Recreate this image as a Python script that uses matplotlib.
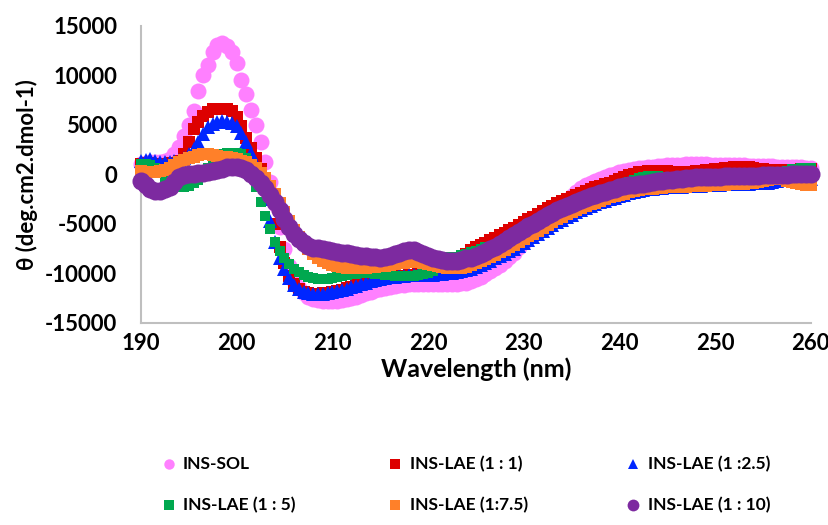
import matplotlib
matplotlib.use("Agg")
import matplotlib.pyplot as plt
from matplotlib.lines import Line2D

plt.rcParams['font.family'] = ['Lato', 'DejaVu Sans']
plt.rcParams['font.weight'] = 'bold'
plt.rcParams['axes.unicode_minus'] = False

# wavelength grid, 0.5 nm steps from 190 to 260
wavelength = [190 + 0.5 * i for i in range(141)]

# ellipticity (each row = 5 nm)
ins_sol = [1000, 1100, 1200, 1200, 1200, 1300, 1500, 2000, 2800, 3900,
           5000, 6400, 8400, 10000, 11000, 12300, 13100, 13300, 13000, 12300,
           11200, 9500, 8100, 6500, 5000, 3300, 1200, -800, -3000, -5300,
           -7500, -9300, -10800, -11500, -12000, -12400, -12600, -12700, -12800, -12800,
           -12800, -12750, -12700, -12600, -12500, -12350, -12200, -12000, -11900, -11700,
           -11600, -11500, -11400, -11300, -11200, -11150, -11100, -11100, -11100, -11100,
           -11100, -11100, -11100, -11100, -11100, -11050, -11100, -11000, -11000, -10800,
           -10600, -10400, -10100, -9800, -9500, -9200, -8800, -8300, -7900, -7300,
           -6800, -6300, -5800, -5300, -4800, -4300, -3900, -3400, -3000, -2600,
           -2200, -1800, -1400, -1100, -900, -700, -500, -300, -100, 50,
           200, 300, 400, 500, 600, 650, 700, 750, 800, 850,
           900, 900, 900, 950, 1000, 1000, 1000, 1000, 1000, 950,
           900, 900, 900, 900, 900, 900, 900, 850, 800, 800,
           800, 800, 800, 750, 700, 700, 700, 700, 700, 650,
           600]

ins_lae_1 = [1000, 1100, 1100, 1000, 1000, 1000, 1100, 1100, 1300, 2000,
             3300, 4600, 5300, 5900, 6300, 6600, 6600, 6600, 6600, 6400,
             5800, 4900, 3700, 2700, 1600, 500, -700, -2600, -5000, -7300,
             -9000, -10300, -11100, -11600, -11900, -12000, -12100, -12100, -12000, -12000,
             -11900, -11800, -11700, -11500, -11400, -11200, -11000, -10900, -10800, -10700,
             -10600, -10500, -10400, -10350, -10300, -10250, -10200, -10150, -10100, -10050,
             -10000, -9900, -9800, -9600, -9400, -9100, -8800, -8400, -8000, -7600,
             -7300, -7100, -6900, -6600, -6400, -6100, -5900, -5600, -5400, -5100,
             -4800, -4500, -4300, -4000, -3700, -3400, -3200, -2900, -2700, -2500,
             -2300, -2100, -1900, -1700, -1500, -1300, -1200, -1000, -900, -700,
             -500, -300, -100, 50, 200, 250, 300, 300, 300, 300,
             300, 250, 200, 200, 200, 250, 300, 350, 400, 450,
             500, 550, 600, 650, 700, 700, 700, 700, 600, 550,
             500, 450, 400, 400, 400, 400, 400, 450, 500, 500,
             500]

ins_lae_2_5 = [1300, 1400, 1500, 1300, 1200, 1200, 1200, 1300, 1400, 1600,
               2000, 2600, 3300, 4100, 4800, 5100, 5300, 5400, 5300, 5200,
               4900, 4200, 3300, 2200, 1000, -700, -2500, -4700, -6800, -8400,
               -9600, -10500, -11200, -11600, -11900, -12000, -12100, -12100, -12100, -12000,
               -11900, -11800, -11700, -11550, -11400, -11250, -11100, -10950, -10800, -10700,
               -10600, -10500, -10400, -10350, -10300, -10250, -10200, -10200, -10200, -10200,
               -10200, -10150, -10100, -10050, -10000, -9950, -9900, -9800, -9700, -9550,
               -9400, -9200, -9000, -8750, -8500, -8250, -8000, -7750, -7500, -7200,
               -6900, -6600, -6300, -6000, -5700, -5400, -5100, -4850, -4600, -4350,
               -4100, -3850, -3600, -3400, -3200, -3000, -2800, -2650, -2500, -2350,
               -2200, -2050, -1900, -1800, -1700, -1600, -1500, -1450, -1400, -1350,
               -1300, -1300, -1300, -1250, -1200, -1200, -1200, -1150, -1100, -1100,
               -1100, -1050, -1000, -1000, -1000, -1000, -1000, -950, -900, -900,
               -900, -850, -800, -700, -600, -550, -500, -500, -500, -500,
               -500]

ins_lae_5 = [1000, 1000, 900, 600, 200, -400, -1000, -1200, -1300, -1300,
             -1200, -900, -600, 0, 600, 1200, 1700, 2000, 2200, 2200,
             2200, 2000, 1600, 500, -1300, -2800, -4200, -5500, -6800, -7700,
             -8500, -9100, -9600, -9900, -10200, -10400, -10500, -10550, -10600, -10550,
             -10500, -10400, -10300, -10200, -10100, -10050, -10000, -10000, -10000, -10050,
             -10100, -10150, -10200, -10250, -10300, -10300, -10300, -10250, -10200, -10100,
             -10000, -9800, -9500, -8900, -8300, -8300, -8300, -8100, -8000, -7800,
             -7700, -7500, -7300, -7300, -7300, -7350, -7400, -7200, -6900, -6600,
             -6300, -6000, -5800, -5500, -5200, -4900, -4700, -4400, -4200, -4000,
             -3800, -3600, -3400, -3150, -2900, -2700, -2500, -2250, -2000, -1650,
             -1300, -1050, -800, -600, -400, -300, -200, -200, -200, -300,
             -400, -550, -700, -800, -900, -950, -1000, -1000, -1000, -950,
             -900, -800, -700, -600, -500, -450, -400, -350, -300, -250,
             -200, -100, 0, 100, 200, 350, 500, 550, 600, 600,
             600]

ins_lae_7_5 = [300, 250, 200, 200, 300, 450, 600, 900, 1200, 1400,
               1600, 1750, 1900, 2000, 2000, 1900, 1800, 1750, 1700, 1600,
               1500, 1350, 1200, 900, 600, 100, -400, -1200, -2000, -2900,
               -3800, -4700, -5600, -6300, -7000, -7500, -8000, -8400, -8800, -9000,
               -9200, -9300, -9400, -9450, -9500, -9500, -9500, -9500, -9400, -9350,
               -9300, -9250, -9200, -9100, -9000, -8950, -8900, -8900, -8900, -9000,
               -9100, -9200, -9300, -9400, -9500, -9500, -9500, -9500, -9400, -9200,
               -9000, -8800, -8600, -8350, -8100, -7850, -7600, -7350, -7100, -6800,
               -6500, -6250, -6000, -5700, -5400, -5100, -4800, -4550, -4300, -4050,
               -3800, -3600, -3400, -3200, -3000, -2850, -2700, -2500, -2300, -2200,
               -2100, -1950, -1800, -1700, -1600, -1500, -1450, -1450, -1400, -1350,
               -1300, -1300, -1300, -1250, -1250, -1200, -1200, -1150, -1150, -1100,
               -1100, -1050, -1050, -1000, -1000, -950, -950, -900, -850, -800,
               -700, -600, -500, -500, -500, -650, -800, -900, -1000, -1050,
               -1100]

ins_lae_10 = [-700, -1100, -1500, -1700, -1700, -1500, -1300, -800, -300, -100,
              0, 50, 100, 150, 200, 300, 400, 550, 700, 700,
              700, 600, 400, 0, -400, -900, -1400, -2100, -2800, -3600,
              -4500, -5300, -6000, -6500, -6900, -7200, -7400, -7450, -7500, -7600,
              -7700, -7800, -7900, -7950, -8000, -8100, -8200, -8250, -8300, -8350,
              -8400, -8300, -8200, -8050, -7900, -7700, -7600, -7600, -7800, -8000,
              -8200, -8400, -8600, -8700, -8800, -8800, -8800, -8700, -8500, -8400,
              -8200, -8000, -7800, -7550, -7300, -7000, -6700, -6400, -6100, -5800,
              -5500, -5250, -5000, -4700, -4400, -4150, -3900, -3650, -3400, -3200,
              -3000, -2800, -2600, -2400, -2200, -2050, -1900, -1750, -1600, -1450,
              -1300, -1200, -1100, -1050, -1000, -950, -900, -800, -700, -650,
              -600, -550, -500, -450, -400, -350, -300, -300, -300, -300,
              -300, -250, -200, -200, -200, -200, -200, -200, -200, -150,
              -100, -100, -100, -100, -100, -50, 0, 0, 0, 0,
              0]

labels = ['INS-SOL', 'INS-LAE (1 : 1)', 'INS-LAE (1 :2.5)',
          'INS-LAE (1 : 5)', 'INS-LAE (1:7.5)', 'INS-LAE (1 : 10)']

series = [ins_sol, ins_lae_1, ins_lae_2_5, ins_lae_5, ins_lae_7_5, ins_lae_10]
colors = ['#FF80FF', '#DD0000', '#0026FF', '#00A84F', '#FF8029', '#7D2AA0']
markers = ['o', 's', '^', 's', 's', 'o']
sizes = [11.5, 8.5, 9.5, 7.8, 8.0, 13.0]
leg_sizes = [7.5, 6.8, 7.5, 6.8, 6.8, 8.5]

fig = plt.figure(figsize=(8.29, 5.25), dpi=100)
ax = fig.add_axes([0.170, 0.385, 0.808, 0.566])

for i, vals in enumerate(series):
    ax.plot(wavelength, vals, linestyle='none', marker=markers[i],
            markersize=sizes[i], color=colors[i], markeredgewidth=0,
            clip_on=False, zorder=2 + i)

ax.set_xlim(190, 260)
ax.set_ylim(-15000, 15000)
ax.set_xticks(range(190, 261, 10))
ax.set_yticks(range(-15000, 15001, 5000))
ax.tick_params(length=0, labelsize=16)
ax.tick_params(axis='x', pad=7)
ax.tick_params(axis='y', pad=17)

for side in ['top', 'right']:
    ax.spines[side].set_visible(False)
for side in ['left', 'bottom']:
    ax.spines[side].set_color('#BFBFBF')
    ax.spines[side].set_linewidth(1.5)

ax.set_xlabel('Wavelength (nm)', fontsize=18, fontweight='bold', labelpad=3)
ax.set_ylabel('θ (deg.cm2.dmol-1)', fontsize=16, fontweight='bold')
ax.yaxis.set_label_coords(-0.153, 0.5)

# legend laid out like the original: 3 columns x 2 rows under the plot
col_marker_x = [0.204, 0.4765, 0.7636]
col_text_x = [0.2207, 0.4946, 0.7817]
row_y = [0.116, 0.038]
for i in range(6):
    c, r = i % 3, i // 3
    fig.add_artist(Line2D([col_marker_x[c]], [row_y[r]], transform=fig.transFigure,
                          linestyle='none', marker=markers[i], markersize=leg_sizes[i],
                          color=colors[i], markeredgewidth=0))
    fig.text(col_text_x[c], row_y[r], labels[i], fontsize=12.5, fontweight='bold',
             va='center', ha='left')

fig.savefig('out.png', dpi=100)
